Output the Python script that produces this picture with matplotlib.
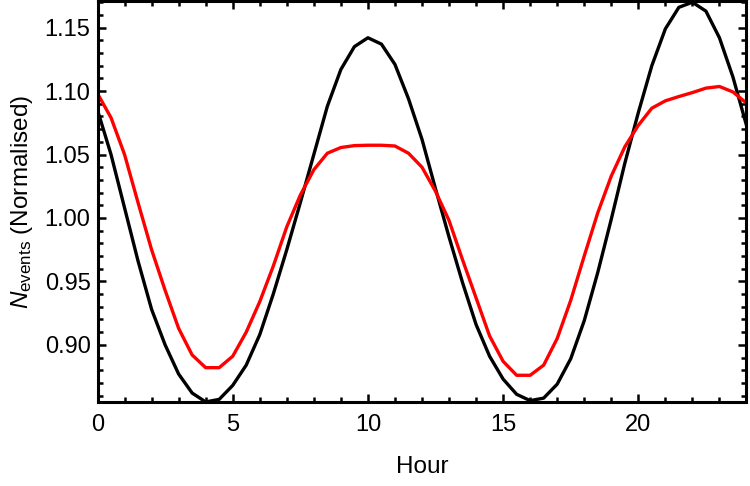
import numpy as np
import matplotlib
matplotlib.use("Agg")
import matplotlib.pyplot as plt
from matplotlib.ticker import MultipleLocator

plt.rcParams['font.family'] = ['Liberation Sans', 'DejaVu Sans']
plt.rcParams['mathtext.fontset'] = 'custom'
plt.rcParams['mathtext.rm'] = 'Liberation Sans'
plt.rcParams['mathtext.it'] = 'Liberation Sans:italic'

hours = [i * 0.5 for i in range(49)]

black_series = [
    1.085, 1.050, 1.008, 0.966, 0.928, 0.900, 0.877, 0.862, 0.855, 0.857,
    0.868, 0.884, 0.908, 0.940, 0.975, 1.012, 1.050, 1.088, 1.117, 1.135,
    1.142, 1.137, 1.121, 1.094, 1.062, 1.023, 0.985, 0.949, 0.916, 0.891,
    0.873, 0.861, 0.856, 0.858, 0.869, 0.889, 0.919, 0.957, 0.999, 1.043,
    1.083, 1.120, 1.149, 1.166, 1.170, 1.163, 1.142, 1.111, 1.073,
]

red_series = [
    1.098, 1.079, 1.050, 1.012, 0.975, 0.943, 0.913, 0.892, 0.882, 0.882,
    0.891, 0.910, 0.934, 0.962, 0.993, 1.018, 1.038, 1.051, 1.0555, 1.057,
    1.0573, 1.0573, 1.0567, 1.051, 1.040, 1.021, 0.998, 0.967, 0.937, 0.907,
    0.887, 0.876, 0.876, 0.884, 0.905, 0.935, 0.970, 1.004, 1.033, 1.056,
    1.073, 1.0865, 1.0923, 1.0957, 1.0988, 1.1023, 1.1036, 1.0993, 1.0905,
]

xticks = [0, 5, 10, 15, 20]
yticks = [0.90, 0.95, 1.00, 1.05, 1.10, 1.15]
ytick_labels = ['0.90', '0.95', '1.00', '1.05', '1.10', '1.15']

fig = plt.figure(figsize=(7.5, 4.86), dpi=100)
ax = fig.add_axes([0.130, 0.173, 0.8653, 0.825])

ax.plot(hours, black_series, color='black', lw=2.4)
ax.plot(hours, red_series, color='#ff0000', lw=2.4)

ax.set_xlim(0, 24)
ax.set_ylim(0.855, 1.171)
ax.set_xticks(xticks)
ax.set_xticklabels([str(t) for t in xticks])
ax.set_yticks(yticks)
ax.set_yticklabels(ytick_labels)
ax.xaxis.set_minor_locator(MultipleLocator(1))
ax.yaxis.set_minor_locator(MultipleLocator(0.01))

ax.tick_params(which='both', direction='in', top=True, right=True,
               width=1.8, labelsize=17)
ax.tick_params(which='major', length=6)
ax.tick_params(which='minor', length=3.5)
ax.tick_params(axis='x', pad=9)
ax.tick_params(axis='y', pad=5)
for s in ax.spines.values():
    s.set_linewidth(2.2)

ax.set_xlabel('Hour', fontsize=17.5, labelpad=14)
ax.set_ylabel(r'$N_{\mathrm{events}}$ (Normalised)', fontsize=17.5, labelpad=7)

fig.savefig('out.png', dpi=100)
